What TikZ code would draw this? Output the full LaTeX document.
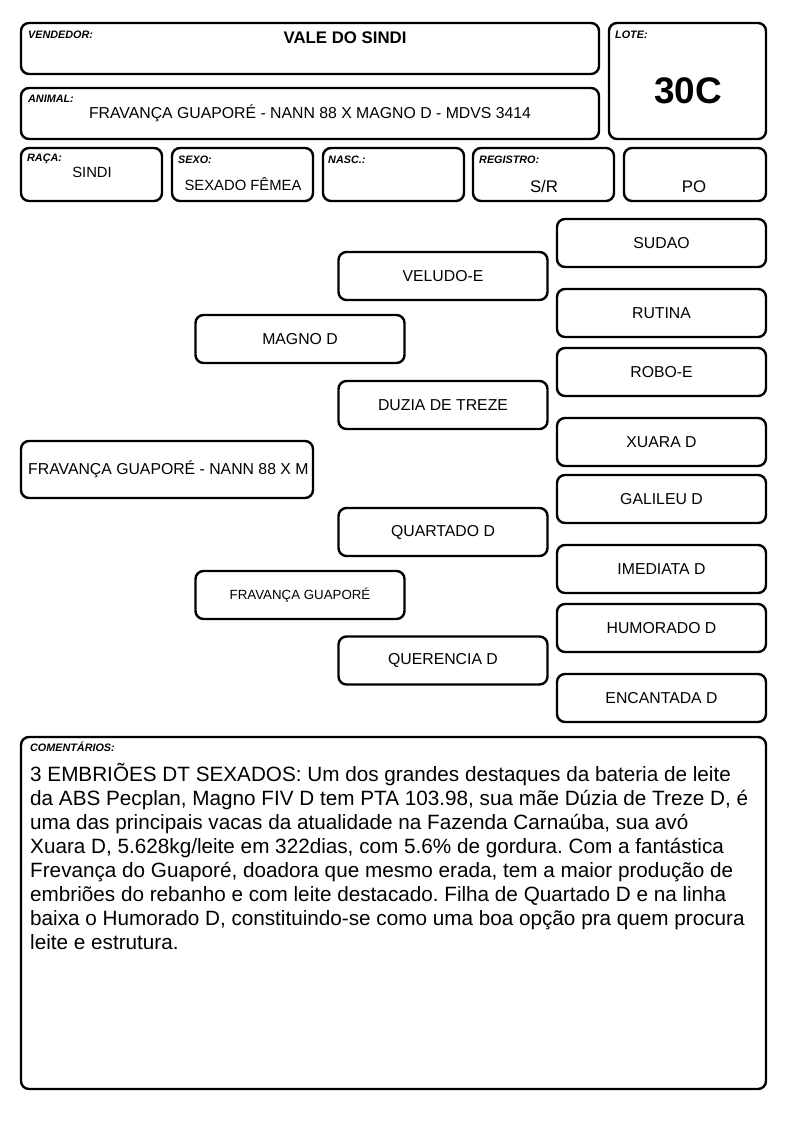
\documentclass[tikz,border=0pt]{standalone}
\usepackage{fontspec}
\setmainfont{Liberation Sans}
\frenchspacing
\begin{document}
\begin{tikzpicture}[x=1pt,y=-1pt,
  box/.style={draw, line width=2.4pt, rounded corners=8pt, inner sep=0pt},
  pbox/.style={box, minimum width=209pt, minimum height=48pt, font=\fontsize{15.8}{18}\selectfont},
  lbl/.style={anchor=base west, inner sep=0pt, font=\fontsize{10.8}{12}\selectfont\bfseries\itshape},
  val/.style={inner sep=0pt, font=\fontsize{15.8}{18}\selectfont}]
\useasboundingbox (0,0) rectangle (794,1123);
% header
\node[box, minimum width=578pt, minimum height=51pt] (vend) at (310,48.5) {};
\node[lbl] (vendl) at (28,38.5) {VENDEDOR:};
\node[val, font=\fontsize{16.8}{18}\selectfont\bfseries] (vendv) at (345,38) {VALE DO SINDI};
\node[box, minimum width=578pt, minimum height=51pt] (anim) at (310,113.5) {};
\node[lbl] (animl) at (28,102.5) {ANIMAL:};
\node[val] (animv) at (310,113) {FRAVANÇA GUAPORÉ - NANN 88 X MAGNO D - MDVS 3414};
\node[box, minimum width=157pt, minimum height=116pt] (lote) at (687.5,81) {};
\node[lbl] (lotel) at (615,38.5) {LOTE:};
\node[val, font=\fontsize{37}{40}\selectfont\bfseries] (lotev) at (688,91) {30C};
\node[box, minimum width=141pt, minimum height=53pt] (raca) at (91.5,174.5) {};
\node[lbl] (racal) at (27,162) {RAÇA:};
\node[val, font=\fontsize{14.8}{17}\selectfont] (racav) at (92,172) {SINDI};
\node[box, minimum width=141pt, minimum height=53pt] (sexo) at (242.5,174.5) {};
\node[lbl] (sexol) at (178,164) {SEXO:};
\node[val, font=\fontsize{14.8}{17}\selectfont] (sexov) at (243,184) {SEXADO FÊMEA};
\node[box, minimum width=141pt, minimum height=53pt] (nasc) at (393.5,174.5) {};
\node[lbl] (nascl) at (328,164) {NASC.:};
\node[box, minimum width=141pt, minimum height=53pt] (reg) at (543.5,174.5) {};
\node[lbl] (regl) at (479,164) {REGISTRO:};
\node[val, font=\fontsize{16.8}{18}\selectfont] (regv) at (544,186) {S/R};
\node[box, minimum width=142pt, minimum height=53pt] (po) at (695,174.5) {};
\node[val, font=\fontsize{16.8}{18}\selectfont] (pov) at (694,187) {PO};
% pedigree
\node[pbox] (sudao) at (661.5,243) {SUDAO};
\node[pbox] (rutina) at (661.5,313) {RUTINA};
\node[pbox] (robo) at (661.5,372) {ROBO-E};
\node[pbox] (xuara) at (661.5,442) {XUARA D};
\node[pbox] (galileu) at (661.5,499) {GALILEU D};
\node[pbox] (imediata) at (661.5,569) {IMEDIATA D};
\node[pbox] (humorado) at (661.5,628) {HUMORADO D};
\node[pbox] (encantada) at (661.5,698) {ENCANTADA D};
\node[pbox] (veludo) at (443,276) {VELUDO-E};
\node[pbox] (duzia) at (443,405) {DUZIA DE TREZE};
\node[pbox] (quartado) at (443,532) {QUARTADO D};
\node[pbox] (querencia) at (443,660.5) {QUERENCIA D};
\node[pbox] (magno) at (300,339) {MAGNO D};
\node[pbox, font=\fontsize{13.3}{15}\selectfont] (fravm) at (300,595) {FRAVANÇA GUAPORÉ};
\node[box, minimum width=292pt, minimum height=57pt] (filho) at (167,469.5) {};
\node[val, anchor=west] (filhov) at (28,469.5) {FRAVANÇA GUAPORÉ - NANN 88 X M};
% comments
\node[box, minimum width=745pt, minimum height=352pt] (com) at (393.5,913) {};
\node[lbl] (coml) at (30,751.5) {COMENTÁRIOS:};
\node[anchor=north west, inner sep=0pt, align=left, font=\fontsize{20.7}{24}\selectfont] (comv) at (30,763) {%
3 EMBRIÕES DT SEXADOS: Um dos grandes destaques da bateria de leite\\
da ABS Pecplan, Magno FIV D tem PTA 103.98, sua mãe Dúzia de Treze D, é\\
uma das principais vacas da atualidade na Fazenda Carnaúba, sua avó\\
Xuara D, 5.628kg/leite em 322dias, com 5.6\% de gordura. Com a fantástica\\
Frevança do Guaporé, doadora que mesmo erada, tem a maior produção de\\
embriões do rebanho e com leite destacado. Filha de Quartado D e na linha\\
baixa o Humorado D, constituindo-se como uma boa opção pra quem procura\\
leite e estrutura.};
\end{tikzpicture}
\end{document}
